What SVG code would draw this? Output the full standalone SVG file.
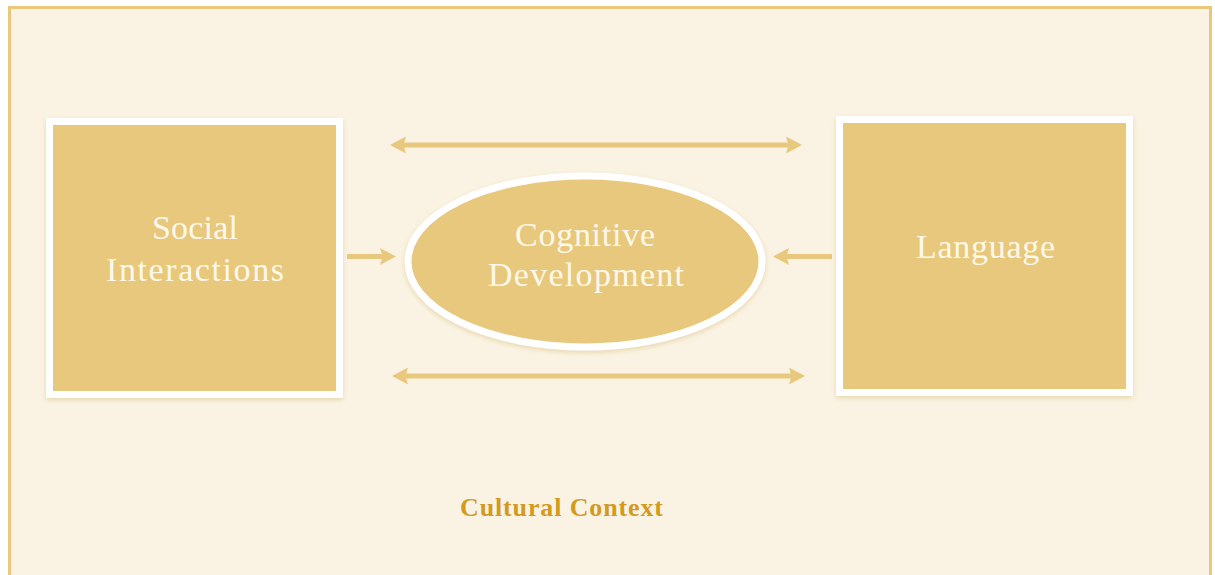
<svg xmlns="http://www.w3.org/2000/svg" width="1215" height="575" viewBox="0 0 1215 575">
  <defs>
    <style>
      .frame { fill: #FAF3E3; stroke: #E8C87C; stroke-width: 3; }
      .node { fill: #E8C87C; stroke: #FFFFFF; stroke-width: 7; }
      .label { font-family: "Liberation Serif", "DejaVu Serif", serif; font-size: 34px; fill: #FDF8EA; text-anchor: middle; }
      .caption { font-family: "Liberation Serif", "DejaVu Serif", serif; font-size: 26px; font-weight: bold; fill: #D29B1F; text-anchor: middle; }
      .conn { stroke: #E8C87C; stroke-width: 5; fill: none; }
    </style>
    <filter id="shadow" x="-10%" y="-10%" width="120%" height="125%">
      <feDropShadow dx="0" dy="2" stdDeviation="2.5" flood-color="#C9A24A" flood-opacity="0.35"/>
    </filter>
    <!-- solid, slightly notched arrowhead; anchored inside the head so the shaft stays hidden -->
    <marker id="head" viewBox="0 0 16 17" refX="4" refY="8.5" markerWidth="16" markerHeight="17" markerUnits="userSpaceOnUse" orient="auto-start-reverse">
      <path d="M0,0 L16,8.5 L0,17 L2.5,8.5 Z" fill="#E8C87C"/>
    </marker>
  </defs>

  <rect width="1215" height="575" fill="#FFFFFF"/>
  <rect class="frame" x="9.5" y="7.5" width="1201" height="580"/>

  <g id="connectors">
    <line class="conn" x1="402" y1="145" x2="790" y2="145" marker-start="url(#head)" marker-end="url(#head)"/>
    <line class="conn" x1="404" y1="376" x2="793" y2="376" marker-start="url(#head)" marker-end="url(#head)"/>
    <line class="conn" x1="347" y1="256.5" x2="384" y2="256.5" marker-end="url(#head)"/>
    <line class="conn" x1="832" y1="256.5" x2="785" y2="256.5" marker-end="url(#head)"/>
  </g>

  <g id="social-interactions">
    <rect class="node" x="49.5" y="121.5" width="290" height="273" filter="url(#shadow)"/>
    <text class="label" x="195" y="239" textLength="86" lengthAdjust="spacing">Social</text>
    <text class="label" x="195" y="281" textLength="178" lengthAdjust="spacing">Interactions</text>
  </g>

  <g id="cognitive-development">
    <ellipse class="node" cx="585" cy="261.5" rx="177" ry="85.5" filter="url(#shadow)"/>
    <text class="label" x="585" y="246" textLength="140" lengthAdjust="spacing">Cognitive</text>
    <text class="label" x="586" y="286" textLength="196" lengthAdjust="spacing">Development</text>
  </g>

  <g id="language">
    <rect class="node" x="839.5" y="119.5" width="290" height="273" filter="url(#shadow)"/>
    <text class="label" x="985.5" y="258" textLength="139" lengthAdjust="spacing">Language</text>
  </g>

  <g id="cultural-context">
    <text class="caption" x="561.5" y="516" textLength="203" lengthAdjust="spacing">Cultural Context</text>
  </g>
</svg>
